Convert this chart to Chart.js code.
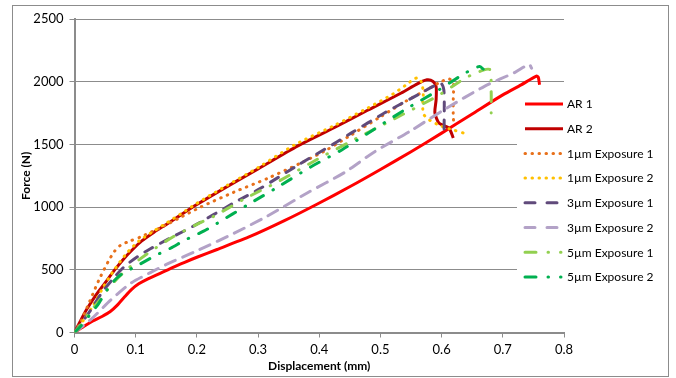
<!DOCTYPE html>
<html>
<head>
<meta charset="utf-8">
<script src="https://cdn.jsdelivr.net/npm/chart.js@4.4.1/dist/chart.umd.min.js"></script>
<style>
  html, body { margin: 0; padding: 0; background: #ffffff; }
  #wrap { width: 676px; height: 378px; position: relative; }
</style>
</head>
<body>
<div id="wrap"><canvas id="c" width="676" height="378"></canvas></div>
<script>
// ---- data (displacement mm, force N) ----
const seriesNames = ['AR 1', 'AR 2', '1µm Exposure 1', '1µm Exposure 2', '3µm Exposure 1', '3µm Exposure 2', '5µm Exposure 1', '5µm Exposure 2'];
const xTickLabels = ['0', '0.1', '0.2', '0.3', '0.4', '0.5', '0.6', '0.7', '0.8'];
const yTickLabels = ['0', '500', '1000', '1500', '2000', '2500'];

const ar1 = [[0,0],[0.015,48],[0.03,92],[0.045,128],[0.058,165],[0.07,218],[0.082,285],[0.093,342],[0.105,388],[0.12,428],[0.14,472],[0.16,518],[0.18,560],[0.2,600],[0.233,662],[0.288,768],[0.343,892],[0.397,1025],[0.452,1168],[0.5,1300],[0.55,1442],[0.6,1590],[0.65,1743],[0.7,1895],[0.73,1975],[0.755,2045],[0.758,2035],[0.76,1975]];
const ar2 = [[0,0],[0.01,95],[0.02,185],[0.035,298],[0.05,395],[0.065,495],[0.08,585],[0.095,662],[0.11,730],[0.13,800],[0.15,862],[0.175,942],[0.2,1020],[0.25,1165],[0.3,1305],[0.365,1488],[0.425,1635],[0.479,1772],[0.534,1910],[0.561,1985],[0.576,2015],[0.586,2002],[0.591,1960],[0.591,1857],[0.589,1752],[0.596,1668],[0.612,1630],[0.619,1551]];
const um1e1 = [[0,0],[0.01,85],[0.025,250],[0.04,420],[0.055,565],[0.065,645],[0.075,695],[0.09,728],[0.108,762],[0.14,835],[0.17,910],[0.206,1000],[0.26,1118],[0.315,1228],[0.37,1352],[0.41,1450],[0.447,1560],[0.5,1720],[0.54,1840],[0.578,1942],[0.6,2002],[0.612,2022],[0.619,1995],[0.619,1850],[0.619,1724],[0.62,1660]];
const um1e2 = [[0,0],[0.015,100],[0.03,212],[0.048,370],[0.065,500],[0.085,630],[0.105,728],[0.13,810],[0.15,872],[0.175,950],[0.2,1030],[0.25,1175],[0.3,1315],[0.36,1497],[0.425,1652],[0.48,1792],[0.52,1900],[0.545,1985],[0.555,2022],[0.563,2030],[0.568,1980],[0.57,1900],[0.569,1800],[0.571,1737],[0.58,1695],[0.6,1645],[0.621,1612],[0.64,1585]];
const um3e1 = [[0,0],[0.012,80],[0.026,175],[0.045,320],[0.065,440],[0.082,528],[0.104,608],[0.124,668],[0.16,762],[0.195,850],[0.261,1035],[0.304,1150],[0.367,1340],[0.425,1508],[0.452,1590],[0.507,1752],[0.561,1895],[0.59,1972],[0.6,1982],[0.604,1912],[0.604,1604]];
const um3e2 = [[0,0],[0.026,100],[0.059,258],[0.091,390],[0.124,478],[0.151,545],[0.195,640],[0.261,792],[0.315,928],[0.381,1115],[0.441,1275],[0.49,1440],[0.55,1610],[0.605,1780],[0.67,1963],[0.72,2075],[0.743,2138],[0.747,2108]];
const um5e1 = [[0,0],[0.01,60],[0.02,130],[0.04,252],[0.06,378],[0.08,478],[0.1,560],[0.124,645],[0.16,760],[0.2,862],[0.228,928],[0.277,1064],[0.333,1204],[0.4,1390],[0.45,1520],[0.517,1690],[0.593,1885],[0.639,2030],[0.668,2092],[0.679,2095],[0.681,1920],[0.681,1750]];
const um5e2 = [[0,0],[0.01,50],[0.025,140],[0.04,235],[0.058,375],[0.075,458],[0.105,540],[0.134,618],[0.157,672],[0.181,738],[0.211,808],[0.233,870],[0.283,1018],[0.334,1165],[0.386,1320],[0.438,1460],[0.488,1615],[0.54,1777],[0.591,1921],[0.639,2070],[0.662,2122],[0.668,2100]];
const seriesData = [ar1, ar2, um1e1, um1e2, um3e1, um3e2, um5e1, um5e2];

// ---- styles ----
const colors = ['#FF0000', '#C00000', '#E8701A', '#FFC000', '#604A7B', '#B3A2C7', '#92D050', '#00B050'];
const dashes = [[], [], [0.5, 6.5], [0.5, 6.5], [9, 9], [11, 8], [10, 11, 0.5, 11], [10, 11, 0.5, 11]];
const legendDashes = [[], [], [0.5, 6.5], [0.5, 6.5], [10, 12], [10, 12], [11, 12, 0.5, 12], [11, 12, 0.5, 12]];
const FONT = 'Lato, "Open Sans", "Liberation Sans", sans-serif';

const datasets = seriesData.map((d, i) => ({
  label: seriesNames[i],
  data: d.map(p => ({ x: p[0], y: p[1] })),
  showLine: true,
  borderColor: colors[i],
  backgroundColor: colors[i],
  borderWidth: 3,
  borderDash: dashes[i],
  borderCapStyle: i < 2 ? 'butt' : 'round',
  borderJoinStyle: 'round',
  pointRadius: 0,
  pointHoverRadius: 0,
  tension: 0.25,
  fill: false,
  order: seriesData.length - i
}));

const legendPlugin = {
  id: 'customLegend',
  beforeDatasetsDraw(chart) {
    const ctx = chart.ctx;
    ctx.save();
    ctx.fillStyle = '#ffffff';
    ctx.fillRect(517, 91, 60, 201);
    ctx.restore();
  },
  afterDraw(chart) {
    const ctx = chart.ctx;
    ctx.save();
    // outer border
    ctx.strokeStyle = '#8c8c8c';
    ctx.lineWidth = 1;
    ctx.strokeRect(12.5, 5.5, 656, 371);
    // legend
    ctx.font = '12px ' + FONT;
    ctx.textBaseline = 'middle';
    ctx.textAlign = 'left';
    seriesNames.forEach((name, i) => {
      const y = 104 + i * 24.7;
      ctx.beginPath();
      ctx.strokeStyle = colors[i];
      ctx.lineWidth = 3;
      ctx.lineCap = i < 2 ? 'butt' : 'round';
      ctx.setLineDash(legendDashes[i]);
      ctx.moveTo(525, y);
      ctx.lineTo(i < 2 ? 563 : 561, y);
      ctx.stroke();
      ctx.setLineDash([]);
      ctx.fillStyle = '#000000';
      ctx.fillText(name, 567, y + 0.5);
    });
    ctx.restore();
  }
};

new Chart(document.getElementById('c'), {
  type: 'scatter',
  data: { datasets },
  options: {
    responsive: false,
    animation: false,
    events: [],
    layout: { padding: { left: 12, top: 19, right: 112, bottom: 2 } },
    plugins: { legend: { display: false }, tooltip: { enabled: false } },
    scales: {
      x: {
        type: 'linear', min: 0, max: 0.8,
        afterFit(s) { s.height = 43.5; },
        ticks: {
          stepSize: 0.1, padding: 5, color: '#000000',
          font: { family: FONT, size: 13 },
          callback: (v, i) => xTickLabels[i]
        },
        grid: { drawOnChartArea: false, drawTicks: true, tickLength: 5, color: '#8c8c8c', lineWidth: 1 },
        border: { display: true, color: '#8c8c8c', width: 2 },
        title: { display: true, text: 'Displacement (mm)', color: '#000000', font: { family: FONT, size: 12, weight: 'bold' }, padding: { top: 0, bottom: 2.5 } }
      },
      y: {
        type: 'linear', min: 0, max: 2500,
        afterFit(s) { s.width = 62.5; },
        ticks: {
          stepSize: 500, padding: 6, color: '#000000',
          font: { family: FONT, size: 13 },
          callback: (v, i) => yTickLabels[i]
        },
        grid: { drawOnChartArea: true, drawTicks: true, tickLength: 5, color: '#8c8c8c', lineWidth: 1 },
        border: { display: true, color: '#8c8c8c', width: 2 },
        title: { display: true, text: 'Force (N)', color: '#000000', font: { family: FONT, size: 12, weight: 'bold' }, padding: { top: 7, bottom: 0 } }
      }
    }
  },
  plugins: [legendPlugin]
});
</script>
</body>
</html>
